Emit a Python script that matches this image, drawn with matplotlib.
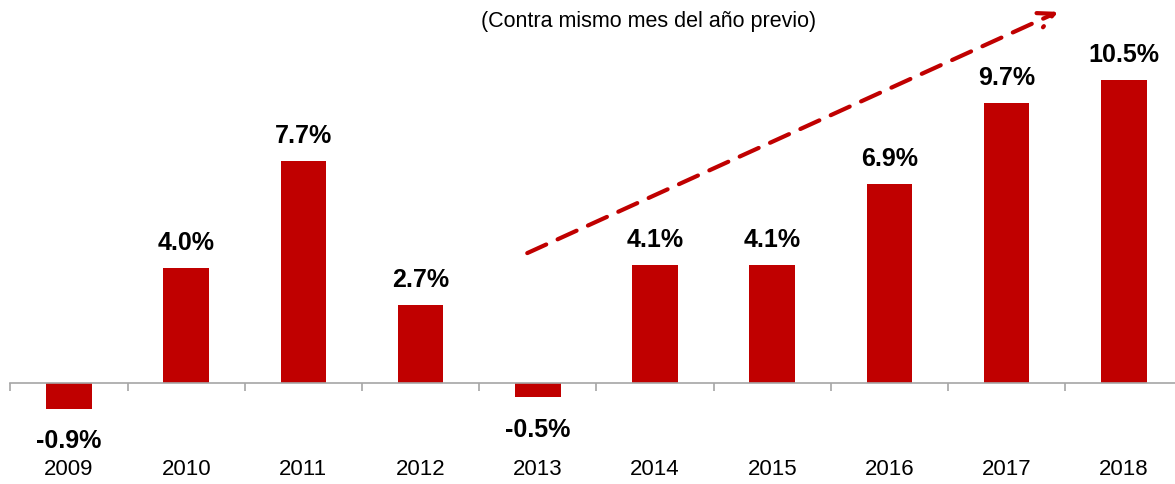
import matplotlib.pyplot as plt
from matplotlib import font_manager

years = ['2009', '2010', '2011', '2012', '2013', '2014', '2015', '2016', '2017', '2018']
growth = [-0.9, 4.0, 7.7, 2.7, -0.5, 4.1, 4.1, 6.9, 9.7, 10.5]
subtitle = '(Contra mismo mes del año previo)'

names = {f.name for f in font_manager.fontManager.ttflist}
fam = 'Liberation Sans Narrow' if 'Liberation Sans Narrow' in names else 'Liberation Sans'
plt.rcParams['font.family'] = [fam, 'DejaVu Sans']

red = '#C00000'
fig = plt.figure(figsize=(11.75, 4.84), dpi=100)
ax = fig.add_axes([10.4 / 1175, 0, 1172 / 1175, 1])

x = list(range(len(years)))
ax.bar(x, growth, width=0.39, color=red)

for xi, v in zip(x, growth):
    if v >= 0:
        ax.text(xi, v + 0.45, f'{v:.1f}%', ha='center', va='bottom',
                fontsize=18, fontweight='bold')
    else:
        ax.text(xi, v - 0.7, f'{v:.1f}%', ha='center', va='top',
                fontsize=18, fontweight='bold')

ax.set_xlim(-0.5, len(years) - 0.5)
ax.set_ylim(-3.5, 13.27)

for s in ['top', 'right', 'left']:
    ax.spines[s].set_visible(False)
ax.spines['bottom'].set_position(('data', 0))
ax.spines['bottom'].set_color('#A6A6A6')
ax.spines['bottom'].set_linewidth(1.2)
ax.set_yticks([])

ax.set_xticks(x)
ax.set_xticklabels(years, fontsize=16)
ax.tick_params(axis='x', which='major', length=0, pad=55)
ax.set_xticks([i - 0.5 for i in range(len(years) + 1)], minor=True)
ax.tick_params(axis='x', which='minor', length=6, color='#A6A6A6', width=1.2)

fig.text(649 / 1175, 1 - 22 / 484, subtitle, ha='center', va='center', fontsize=15.5)

ax.annotate('', xy=(8.44, 12.86), xytext=(3.91, 4.5),
            arrowprops=dict(arrowstyle='->', color=red, lw=3, linestyle=(0, (5, 3)),
                            mutation_scale=28, shrinkA=0, shrinkB=0))

fig.savefig('out.png', dpi=100)
